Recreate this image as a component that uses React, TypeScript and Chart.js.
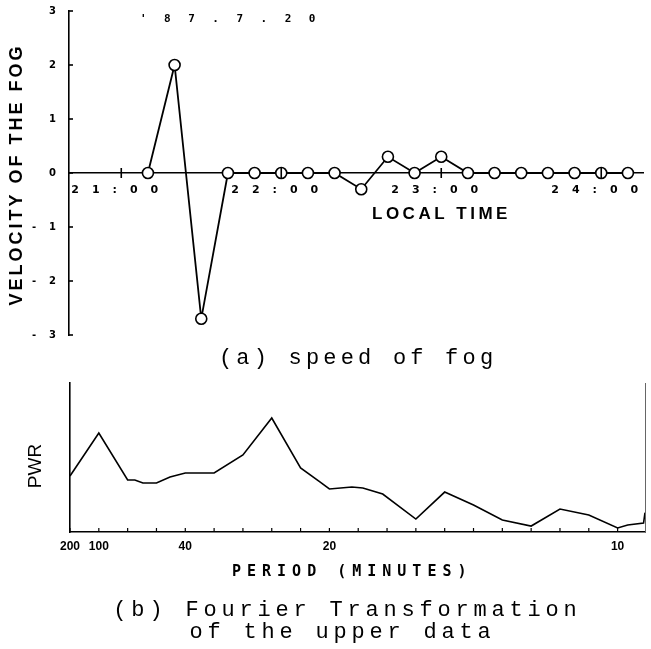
import React, { useEffect, useRef } from "react";
import { Chart, registerables } from "chart.js";
Chart.register(...registerables);

// ---- upper chart data: velocity of the fog, 87.7.20 ----
const times = [
  "21:10", "21:20", "21:30", "21:40", "21:50", "22:00", "22:10", "22:20", "22:30", "22:40",
  "22:50", "23:00", "23:10", "23:20", "23:30", "23:40", "23:50", "24:00", "24:10",
];
const velocity = [0, 2, -2.7, 0, 0, 0, 0, 0, -0.3, 0.3, 0, 0.3, 0, 0, 0, 0, 0, 0, 0];
const hourLabels = ["21:00", "22:00", "23:00", "24:00"];
const velocityTicks = [-3, -2, -1, 0, 1, 2, 3];

// ---- lower chart data: Fourier power spectrum (harmonic number k, period = 200/k min) ----
const harmonic = [
  1, 2, 3, 3.25, 3.53, 4, 4.47, 5, 6, 7, 8, 9, 9.67, 10, 10.78, 11.16, 11.85, 13, 14, 15,
  16, 17, 18, 19, 20, 20.35, 20.9, 20.95,
];
const power = [
  0.376, 0.664, 0.349, 0.349, 0.329, 0.329, 0.369, 0.396, 0.396, 0.517, 0.765, 0.43, 0.336,
  0.289, 0.302, 0.295, 0.255, 0.087, 0.268, 0.181, 0.081, 0.04, 0.154, 0.114, 0.027, 0.047,
  0.06, 0.13,
];
const harmonicTicks = [1, 2, 3, 4, 5, 6, 7, 8, 9, 10, 11, 12, 13, 14, 15, 16, 17, 18, 19, 20];
const labelledHarmonics = [1, 2, 5, 10, 20];
const periodLabels = ["200", "100", "40", "20", "10"];

const toMinutes = (t: string) => {
  const [h, m] = t.split(":").map(Number);
  return (h - 21) * 60 + m;
};

type TextItem = {
  text: string;
  x: number;
  y: number;
  font: string;
  spacing: number;
  align?: CanvasTextAlign;
  rotate?: boolean;
};

function drawTexts(ctx: CanvasRenderingContext2D, items: TextItem[]) {
  for (const it of items) {
    ctx.save();
    (ctx as any).letterSpacing = it.spacing + "px";
    ctx.font = it.font;
    ctx.fillStyle = "#000";
    ctx.textBaseline = "middle";
    ctx.textAlign = it.align || "left";
    const shift = it.align === "center" ? it.spacing / 2 : 0;
    if (it.rotate) {
      ctx.translate(it.x, it.y);
      ctx.rotate(-Math.PI / 2);
      ctx.fillText(it.text, shift, 0);
    } else {
      ctx.fillText(it.text, it.x + shift, it.y);
    }
    ctx.restore();
  }
}

export default function App() {
  const topRef = useRef<HTMLCanvasElement>(null);
  const botRef = useRef<HTMLCanvasElement>(null);

  useEffect(() => {
    const topTexts: TextItem[] = [
      { text: "'87.7.20", x: 140, y: 19, font: "bold 11px 'DejaVu Sans Mono'", spacing: 17.5 },
      { text: "VELOCITY OF THE FOG", x: 17, y: 176, font: "bold 18px 'Liberation Sans'", spacing: 3, align: "center", rotate: true },
      { text: "LOCAL TIME", x: 372, y: 214, font: "bold 17px 'Liberation Sans'", spacing: 3.5 },
      { text: "(a) speed of fog", x: 356, y: 358, font: "22px 'Liberation Mono'", spacing: 4.2, align: "center" },
    ];

    const topPlugin = {
      id: "topDecor",
      beforeDraw(chart: any) {
        chart.ctx.letterSpacing = "13px";
      },
      afterDraw(chart: any) {
        const ctx = chart.ctx as CanvasRenderingContext2D;
        (ctx as any).letterSpacing = "0px";
        const xs = chart.scales.x;
        const ys = chart.scales.y;
        const y0 = ys.getPixelForValue(0);
        ctx.save();
        ctx.strokeStyle = "#000";
        ctx.lineWidth = 1.6;
        for (const t of xs.ticks) {
          const px = xs.getPixelForValue(t.value);
          ctx.beginPath();
          ctx.moveTo(px, y0 - 5);
          ctx.lineTo(px, y0 + 5);
          ctx.stroke();
        }
        for (const t of ys.ticks) {
          const py = ys.getPixelForValue(t.value);
          ctx.beginPath();
          ctx.moveTo(chart.chartArea.left, py);
          ctx.lineTo(chart.chartArea.left + 4, py);
          ctx.stroke();
        }
        ctx.restore();
        drawTexts(ctx, topTexts);
      },
    };

    const hourValues = hourLabels.map(toMinutes);

    const c1 = new Chart(topRef.current as HTMLCanvasElement, {
      type: "line",
      data: {
        datasets: [
          {
            data: times.map((t, i) => ({ x: toMinutes(t), y: velocity[i] })),
            borderColor: "#000",
            borderWidth: 1.8,
            pointRadius: 5.5,
            pointBackgroundColor: "#fff",
            pointBorderColor: "#000",
            pointBorderWidth: 1.6,
            tension: 0,
          },
        ],
      },
      options: {
        responsive: false,
        animation: false,
        layout: { padding: { top: 11, bottom: 45, left: 0, right: 0 } },
        plugins: { legend: { display: false }, tooltip: { enabled: false } },
        scales: {
          x: {
            type: "linear",
            position: { y: 0 } as any,
            min: -19.6,
            max: 196,
            grid: { display: false, drawTicks: false },
            border: { display: true, color: "#000", width: 1.6 },
            ticks: {
              color: "#000",
              font: { family: "'DejaVu Sans'", size: 11, weight: "bold" },
              padding: 11,
              maxRotation: 0,
              autoSkip: false,
              callback: (v: any) => {
                const i = hourValues.indexOf(Number(v));
                return i >= 0 ? hourLabels[i] : "";
              },
            },
            afterBuildTicks: (s: any) => {
              s.ticks = hourValues.map((v) => ({ value: v }));
            },
            afterFit: (s: any) => {
              s.paddingLeft = 0;
              s.paddingRight = 0;
            },
          },
          y: {
            type: "linear",
            min: -3,
            max: 3,
            grid: { display: false, drawTicks: false },
            border: { display: true, color: "#000", width: 1.6 },
            ticks: {
              color: "#000",
              padding: 0,
              font: { family: "'DejaVu Sans'", size: 10, weight: "bold" },
            },
            afterBuildTicks: (s: any) => {
              s.ticks = velocityTicks.map((v) => ({ value: v }));
            },
            afterFit: (s: any) => {
              s.width = 69;
              s.paddingTop = 0;
              s.paddingBottom = 0;
            },
          },
        },
      },
      plugins: [topPlugin],
    } as any);

    const botTexts: TextItem[] = [
      { text: "PERIOD (MINUTES)", x: 232, y: 192, font: "bold 15px 'DejaVu Sans Mono'", spacing: 6 },
      { text: "PWR", x: 36, y: 86, font: "19px 'Liberation Sans'", spacing: 0, align: "center", rotate: true },
      { text: "(b) Fourier Transformation", x: 345, y: 230, font: "22px 'Liberation Mono'", spacing: 4.8, align: "center" },
      { text: "of the upper data", x: 340, y: 252, font: "22px 'Liberation Mono'", spacing: 4.8, align: "center" },
    ];

    const botPlugin = {
      id: "botDecor",
      beforeDraw(chart: any) {
        chart.ctx.letterSpacing = "0px";
      },
      afterDraw(chart: any) {
        const ctx = chart.ctx as CanvasRenderingContext2D;
        const xs = chart.scales.x;
        const yb = chart.chartArea.bottom;
        ctx.save();
        ctx.strokeStyle = "#000";
        ctx.lineWidth = 1.2;
        for (const t of xs.ticks) {
          const px = xs.getPixelForValue(t.value);
          ctx.beginPath();
          ctx.moveTo(px, yb);
          ctx.lineTo(px, yb - 4);
          ctx.stroke();
        }
        ctx.restore();
        drawTexts(ctx, botTexts);
      },
    };

    const c2 = new Chart(botRef.current as HTMLCanvasElement, {
      type: "line",
      data: {
        datasets: [
          {
            data: harmonic.map((k, i) => ({ x: k, y: power[i] })),
            borderColor: "#000",
            borderWidth: 1.6,
            pointRadius: 0,
            tension: 0,
          },
        ],
      },
      options: {
        responsive: false,
        animation: false,
        layout: { padding: { top: 3, right: 6, left: 0, bottom: 0 } },
        plugins: { legend: { display: false }, tooltip: { enabled: false } },
        scales: {
          x: {
            type: "linear",
            position: "bottom",
            min: 1,
            max: 20.95,
            grid: { display: false, drawTicks: false },
            border: { display: true, color: "#000", width: 1.6 },
            ticks: {
              color: "#000",
              padding: 7,
              autoSkip: false,
              maxRotation: 0,
              font: { family: "'Liberation Sans'", size: 12, weight: "bold" },
              callback: (v: any) => {
                const i = labelledHarmonics.indexOf(Number(v));
                return i >= 0 ? periodLabels[i] : "";
              },
            },
            afterBuildTicks: (s: any) => {
              s.ticks = harmonicTicks.map((v) => ({ value: v }));
            },
            afterFit: (s: any) => {
              s.height = 117;
              s.paddingLeft = 0;
              s.paddingRight = 0;
            },
          },
          y: {
            type: "linear",
            min: 0,
            max: 1,
            ticks: { display: false },
            grid: { display: false, drawTicks: false },
            border: { display: true, color: "#000", width: 1.6 },
            afterFit: (s: any) => {
              s.width = 70;
              s.paddingTop = 0;
              s.paddingBottom = 0;
            },
          },
          y2: {
            type: "linear",
            position: "right",
            min: 0,
            max: 1,
            ticks: { display: false },
            grid: { display: false, drawTicks: false },
            border: { display: true, color: "#666", width: 1, dash: [1, 2] },
            afterFit: (s: any) => {
              s.width = 0;
              s.paddingTop = 0;
              s.paddingBottom = 0;
            },
          },
        },
      },
      plugins: [botPlugin],
    } as any);

    return () => {
      c1.destroy();
      c2.destroy();
    };
  }, []);

  return (
    <div style={{ position: "fixed", left: 0, top: 0, width: 651, height: 649, background: "#fff" }}>
      <canvas ref={topRef} width={651} height={380} style={{ position: "absolute", left: 0, top: 0 }} />
      <canvas ref={botRef} width={651} height={269} style={{ position: "absolute", left: 0, top: 380 }} />
    </div>
  );
}
